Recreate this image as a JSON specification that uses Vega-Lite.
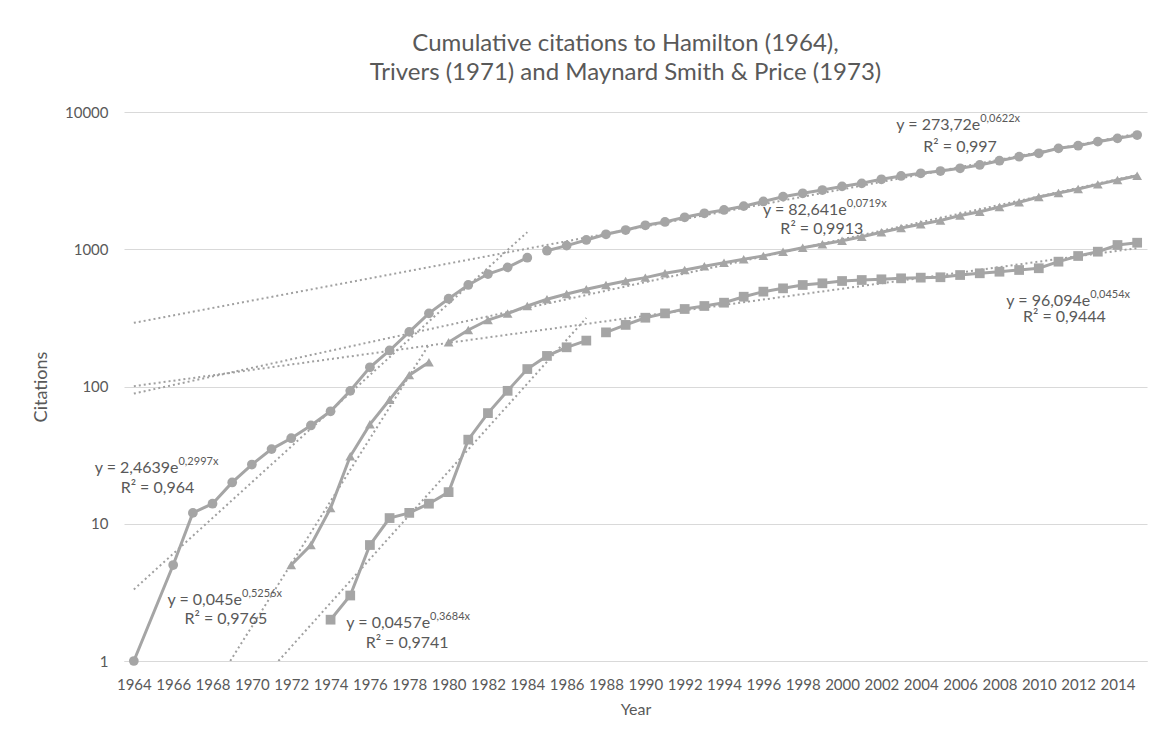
{
  "$schema": "https://vega.github.io/schema/vega-lite/v6.json",
  "width": 1023,
  "height": 549,
  "autosize": {"type": "none"},
  "padding": {"left": 124, "top": 112, "right": 18, "bottom": 79},
  "background": "white",
  "config": {
    "view": {"stroke": null},
    "font": "Lato",
    "text": {"font": "Lato", "color": "#595959"}
  },
  "title": {
    "text": ["Cumulative citations to Hamilton (1964),", "Trivers (1971) and Maynard Smith & Price (1973)"],
    "font": "Lato",
    "fontSize": 24,
    "fontWeight": "normal",
    "color": "#595959",
    "anchor": "middle",
    "offset": 20,
    "dx": -10,
    "lineHeight": 29
  },
  "datasets": {
    "series": [
      {"paper": "Hamilton (1964)", "segment": "H1", "year": 1964, "citations": 1},
      {"paper": "Hamilton (1964)", "segment": "H1", "year": 1966, "citations": 5},
      {"paper": "Hamilton (1964)", "segment": "H1", "year": 1967, "citations": 12},
      {"paper": "Hamilton (1964)", "segment": "H1", "year": 1968, "citations": 14},
      {"paper": "Hamilton (1964)", "segment": "H1", "year": 1969, "citations": 20},
      {"paper": "Hamilton (1964)", "segment": "H1", "year": 1970, "citations": 27},
      {"paper": "Hamilton (1964)", "segment": "H1", "year": 1971, "citations": 35},
      {"paper": "Hamilton (1964)", "segment": "H1", "year": 1972, "citations": 42},
      {"paper": "Hamilton (1964)", "segment": "H1", "year": 1973, "citations": 52},
      {"paper": "Hamilton (1964)", "segment": "H1", "year": 1974, "citations": 66},
      {"paper": "Hamilton (1964)", "segment": "H1", "year": 1975, "citations": 93},
      {"paper": "Hamilton (1964)", "segment": "H1", "year": 1976, "citations": 138},
      {"paper": "Hamilton (1964)", "segment": "H1", "year": 1977, "citations": 183},
      {"paper": "Hamilton (1964)", "segment": "H1", "year": 1978, "citations": 250},
      {"paper": "Hamilton (1964)", "segment": "H1", "year": 1979, "citations": 341},
      {"paper": "Hamilton (1964)", "segment": "H1", "year": 1980, "citations": 436},
      {"paper": "Hamilton (1964)", "segment": "H1", "year": 1981, "citations": 549},
      {"paper": "Hamilton (1964)", "segment": "H1", "year": 1982, "citations": 660},
      {"paper": "Hamilton (1964)", "segment": "H1", "year": 1983, "citations": 738},
      {"paper": "Hamilton (1964)", "segment": "H1", "year": 1984, "citations": 868},
      {"paper": "Hamilton (1964)", "segment": "H2", "year": 1985, "citations": 976},
      {"paper": "Hamilton (1964)", "segment": "H2", "year": 1986, "citations": 1062},
      {"paper": "Hamilton (1964)", "segment": "H2", "year": 1987, "citations": 1168},
      {"paper": "Hamilton (1964)", "segment": "H2", "year": 1988, "citations": 1285},
      {"paper": "Hamilton (1964)", "segment": "H2", "year": 1989, "citations": 1381},
      {"paper": "Hamilton (1964)", "segment": "H2", "year": 1990, "citations": 1495},
      {"paper": "Hamilton (1964)", "segment": "H2", "year": 1991, "citations": 1580},
      {"paper": "Hamilton (1964)", "segment": "H2", "year": 1992, "citations": 1709},
      {"paper": "Hamilton (1964)", "segment": "H2", "year": 1993, "citations": 1828},
      {"paper": "Hamilton (1964)", "segment": "H2", "year": 1994, "citations": 1932},
      {"paper": "Hamilton (1964)", "segment": "H2", "year": 1995, "citations": 2060},
      {"paper": "Hamilton (1964)", "segment": "H2", "year": 1996, "citations": 2230},
      {"paper": "Hamilton (1964)", "segment": "H2", "year": 1997, "citations": 2416},
      {"paper": "Hamilton (1964)", "segment": "H2", "year": 1998, "citations": 2556},
      {"paper": "Hamilton (1964)", "segment": "H2", "year": 1999, "citations": 2700},
      {"paper": "Hamilton (1964)", "segment": "H2", "year": 2000, "citations": 2870},
      {"paper": "Hamilton (1964)", "segment": "H2", "year": 2001, "citations": 3022},
      {"paper": "Hamilton (1964)", "segment": "H2", "year": 2002, "citations": 3233},
      {"paper": "Hamilton (1964)", "segment": "H2", "year": 2003, "citations": 3419},
      {"paper": "Hamilton (1964)", "segment": "H2", "year": 2004, "citations": 3575},
      {"paper": "Hamilton (1964)", "segment": "H2", "year": 2005, "citations": 3716},
      {"paper": "Hamilton (1964)", "segment": "H2", "year": 2006, "citations": 3890},
      {"paper": "Hamilton (1964)", "segment": "H2", "year": 2007, "citations": 4111},
      {"paper": "Hamilton (1964)", "segment": "H2", "year": 2008, "citations": 4418},
      {"paper": "Hamilton (1964)", "segment": "H2", "year": 2009, "citations": 4724},
      {"paper": "Hamilton (1964)", "segment": "H2", "year": 2010, "citations": 5000},
      {"paper": "Hamilton (1964)", "segment": "H2", "year": 2011, "citations": 5437},
      {"paper": "Hamilton (1964)", "segment": "H2", "year": 2012, "citations": 5683},
      {"paper": "Hamilton (1964)", "segment": "H2", "year": 2013, "citations": 6081},
      {"paper": "Hamilton (1964)", "segment": "H2", "year": 2014, "citations": 6430},
      {"paper": "Hamilton (1964)", "segment": "H2", "year": 2015, "citations": 6795},
      {"paper": "Trivers (1971)", "segment": "T1", "year": 1972, "citations": 5},
      {"paper": "Trivers (1971)", "segment": "T1", "year": 1973, "citations": 7},
      {"paper": "Trivers (1971)", "segment": "T1", "year": 1974, "citations": 13},
      {"paper": "Trivers (1971)", "segment": "T1", "year": 1975, "citations": 31},
      {"paper": "Trivers (1971)", "segment": "T1", "year": 1976, "citations": 53},
      {"paper": "Trivers (1971)", "segment": "T1", "year": 1977, "citations": 80},
      {"paper": "Trivers (1971)", "segment": "T1", "year": 1978, "citations": 121},
      {"paper": "Trivers (1971)", "segment": "T1", "year": 1979, "citations": 150},
      {"paper": "Trivers (1971)", "segment": "T2", "year": 1980, "citations": 210},
      {"paper": "Trivers (1971)", "segment": "T2", "year": 1981, "citations": 258},
      {"paper": "Trivers (1971)", "segment": "T2", "year": 1982, "citations": 305},
      {"paper": "Trivers (1971)", "segment": "T2", "year": 1983, "citations": 340},
      {"paper": "Trivers (1971)", "segment": "T2", "year": 1984, "citations": 386},
      {"paper": "Trivers (1971)", "segment": "T2", "year": 1985, "citations": 432},
      {"paper": "Trivers (1971)", "segment": "T2", "year": 1986, "citations": 472},
      {"paper": "Trivers (1971)", "segment": "T2", "year": 1987, "citations": 511},
      {"paper": "Trivers (1971)", "segment": "T2", "year": 1988, "citations": 549},
      {"paper": "Trivers (1971)", "segment": "T2", "year": 1989, "citations": 587},
      {"paper": "Trivers (1971)", "segment": "T2", "year": 1990, "citations": 621},
      {"paper": "Trivers (1971)", "segment": "T2", "year": 1991, "citations": 668},
      {"paper": "Trivers (1971)", "segment": "T2", "year": 1992, "citations": 706},
      {"paper": "Trivers (1971)", "segment": "T2", "year": 1993, "citations": 752},
      {"paper": "Trivers (1971)", "segment": "T2", "year": 1994, "citations": 798},
      {"paper": "Trivers (1971)", "segment": "T2", "year": 1995, "citations": 845},
      {"paper": "Trivers (1971)", "segment": "T2", "year": 1996, "citations": 895},
      {"paper": "Trivers (1971)", "segment": "T2", "year": 1997, "citations": 960},
      {"paper": "Trivers (1971)", "segment": "T2", "year": 1998, "citations": 1025},
      {"paper": "Trivers (1971)", "segment": "T2", "year": 1999, "citations": 1086},
      {"paper": "Trivers (1971)", "segment": "T2", "year": 2000, "citations": 1155},
      {"paper": "Trivers (1971)", "segment": "T2", "year": 2001, "citations": 1234},
      {"paper": "Trivers (1971)", "segment": "T2", "year": 2002, "citations": 1330},
      {"paper": "Trivers (1971)", "segment": "T2", "year": 2003, "citations": 1430},
      {"paper": "Trivers (1971)", "segment": "T2", "year": 2004, "citations": 1520},
      {"paper": "Trivers (1971)", "segment": "T2", "year": 2005, "citations": 1620},
      {"paper": "Trivers (1971)", "segment": "T2", "year": 2006, "citations": 1760},
      {"paper": "Trivers (1971)", "segment": "T2", "year": 2007, "citations": 1877},
      {"paper": "Trivers (1971)", "segment": "T2", "year": 2008, "citations": 2030},
      {"paper": "Trivers (1971)", "segment": "T2", "year": 2009, "citations": 2198},
      {"paper": "Trivers (1971)", "segment": "T2", "year": 2010, "citations": 2400},
      {"paper": "Trivers (1971)", "segment": "T2", "year": 2011, "citations": 2570},
      {"paper": "Trivers (1971)", "segment": "T2", "year": 2012, "citations": 2750},
      {"paper": "Trivers (1971)", "segment": "T2", "year": 2013, "citations": 2970},
      {"paper": "Trivers (1971)", "segment": "T2", "year": 2014, "citations": 3196},
      {"paper": "Trivers (1971)", "segment": "T2", "year": 2015, "citations": 3436},
      {"paper": "Maynard Smith & Price (1973)", "segment": "M1", "year": 1974, "citations": 2},
      {"paper": "Maynard Smith & Price (1973)", "segment": "M1", "year": 1975, "citations": 3},
      {"paper": "Maynard Smith & Price (1973)", "segment": "M1", "year": 1976, "citations": 7},
      {"paper": "Maynard Smith & Price (1973)", "segment": "M1", "year": 1977, "citations": 11},
      {"paper": "Maynard Smith & Price (1973)", "segment": "M1", "year": 1978, "citations": 12},
      {"paper": "Maynard Smith & Price (1973)", "segment": "M1", "year": 1979, "citations": 14},
      {"paper": "Maynard Smith & Price (1973)", "segment": "M1", "year": 1980, "citations": 17},
      {"paper": "Maynard Smith & Price (1973)", "segment": "M1", "year": 1981, "citations": 41},
      {"paper": "Maynard Smith & Price (1973)", "segment": "M1", "year": 1982, "citations": 64},
      {"paper": "Maynard Smith & Price (1973)", "segment": "M1", "year": 1983, "citations": 93},
      {"paper": "Maynard Smith & Price (1973)", "segment": "M1", "year": 1984, "citations": 134},
      {"paper": "Maynard Smith & Price (1973)", "segment": "M1", "year": 1985, "citations": 167},
      {"paper": "Maynard Smith & Price (1973)", "segment": "M1", "year": 1986, "citations": 193},
      {"paper": "Maynard Smith & Price (1973)", "segment": "M1", "year": 1987, "citations": 216},
      {"paper": "Maynard Smith & Price (1973)", "segment": "M2", "year": 1988, "citations": 248},
      {"paper": "Maynard Smith & Price (1973)", "segment": "M2", "year": 1989, "citations": 281},
      {"paper": "Maynard Smith & Price (1973)", "segment": "M2", "year": 1990, "citations": 317},
      {"paper": "Maynard Smith & Price (1973)", "segment": "M2", "year": 1991, "citations": 341},
      {"paper": "Maynard Smith & Price (1973)", "segment": "M2", "year": 1992, "citations": 367},
      {"paper": "Maynard Smith & Price (1973)", "segment": "M2", "year": 1993, "citations": 386},
      {"paper": "Maynard Smith & Price (1973)", "segment": "M2", "year": 1994, "citations": 408},
      {"paper": "Maynard Smith & Price (1973)", "segment": "M2", "year": 1995, "citations": 451},
      {"paper": "Maynard Smith & Price (1973)", "segment": "M2", "year": 1996, "citations": 491},
      {"paper": "Maynard Smith & Price (1973)", "segment": "M2", "year": 1997, "citations": 519},
      {"paper": "Maynard Smith & Price (1973)", "segment": "M2", "year": 1998, "citations": 549},
      {"paper": "Maynard Smith & Price (1973)", "segment": "M2", "year": 1999, "citations": 565},
      {"paper": "Maynard Smith & Price (1973)", "segment": "M2", "year": 2000, "citations": 587},
      {"paper": "Maynard Smith & Price (1973)", "segment": "M2", "year": 2001, "citations": 597},
      {"paper": "Maynard Smith & Price (1973)", "segment": "M2", "year": 2002, "citations": 604},
      {"paper": "Maynard Smith & Price (1973)", "segment": "M2", "year": 2003, "citations": 614},
      {"paper": "Maynard Smith & Price (1973)", "segment": "M2", "year": 2004, "citations": 621},
      {"paper": "Maynard Smith & Price (1973)", "segment": "M2", "year": 2005, "citations": 625},
      {"paper": "Maynard Smith & Price (1973)", "segment": "M2", "year": 2006, "citations": 649},
      {"paper": "Maynard Smith & Price (1973)", "segment": "M2", "year": 2007, "citations": 668},
      {"paper": "Maynard Smith & Price (1973)", "segment": "M2", "year": 2008, "citations": 686},
      {"paper": "Maynard Smith & Price (1973)", "segment": "M2", "year": 2009, "citations": 706},
      {"paper": "Maynard Smith & Price (1973)", "segment": "M2", "year": 2010, "citations": 727},
      {"paper": "Maynard Smith & Price (1973)", "segment": "M2", "year": 2011, "citations": 812},
      {"paper": "Maynard Smith & Price (1973)", "segment": "M2", "year": 2012, "citations": 893},
      {"paper": "Maynard Smith & Price (1973)", "segment": "M2", "year": 2013, "citations": 960},
      {"paper": "Maynard Smith & Price (1973)", "segment": "M2", "year": 2014, "citations": 1074},
      {"paper": "Maynard Smith & Price (1973)", "segment": "M2", "year": 2015, "citations": 1116}
    ],
    "trends": [
      {"trend": "HA", "year": 1964, "citations": 3.32},
      {"trend": "HA", "year": 1984, "citations": 1333},
      {"trend": "HB", "year": 1964, "citations": 291},
      {"trend": "HB", "year": 2015, "citations": 6950},
      {"trend": "TA", "year": 1968.9, "citations": 1},
      {"trend": "TA", "year": 1979, "citations": 202},
      {"trend": "TB", "year": 1964, "citations": 88.8},
      {"trend": "TB", "year": 2015, "citations": 3475},
      {"trend": "SA", "year": 1971.35, "citations": 1},
      {"trend": "SA", "year": 1987, "citations": 316},
      {"trend": "SB", "year": 1964, "citations": 100.6},
      {"trend": "SB", "year": 2015, "citations": 1019}
    ],
    "equations": [
      {"year": 1966.27, "citations": 25.5, "eq": "y = 2,4639e", "sup": "0,2997x"},
      {"year": 1969.5, "citations": 2.78, "eq": "y = 0,045e", "sup": "0,5256x"},
      {"year": 1979.06, "citations": 1.9, "eq": "y = 0,0457e", "sup": "0,3684x"},
      {"year": 2007.02, "citations": 8039, "eq": "y = 273,72e", "sup": "0,0622x"},
      {"year": 2000.24, "citations": 1932, "eq": "y = 82,641e", "sup": "0,0719x"},
      {"year": 2012.61, "citations": 422, "eq": "y = 96,094e", "sup": "0,0454x"}
    ],
    "rsquared": [
      {"year": 1965.2, "citations": 18.2, "label": "R² = 0,964"},
      {"year": 1968.68, "citations": 2.01, "label": "R² = 0,9765"},
      {"year": 1977.89, "citations": 1.35, "label": "R² = 0,9741"},
      {"year": 2006.0, "citations": 5588, "label": "R² = 0,997"},
      {"year": 1998.97, "citations": 1397, "label": "R² = 0,9913"},
      {"year": 2011.3, "citations": 319, "label": "R² = 0,9444"}
    ]
  },
  "encoding": {
    "x": {
      "field": "year",
      "type": "quantitative",
      "scale": {"domain": [1963.5, 2015.5], "nice": false, "zero": false},
      "axis": {
        "title": "Year",
        "values": [1964, 1966, 1968, 1970, 1972, 1974, 1976, 1978, 1980, 1982, 1984, 1986, 1988, 1990, 1992, 1994, 1996, 1998, 2000, 2002, 2004, 2006, 2008, 2010, 2012, 2014],
        "format": "d",
        "grid": false,
        "ticks": false,
        "tickSize": 0,
        "domain": true,
        "domainColor": "#D9D9D9",
        "domainWidth": 1,
        "labelFont": "Lato",
        "labelFontSize": 15,
        "labelColor": "#595959",
        "labelPadding": 16,
        "labelOverlap": false,
        "labelFlush": false,
        "titleFont": "Lato",
        "titleFontSize": 16,
        "titleFontWeight": "normal",
        "titleColor": "#595959",
        "titlePadding": 9
      }
    },
    "y": {
      "field": "citations",
      "type": "quantitative",
      "scale": {"type": "log", "domain": [1, 10000], "nice": false},
      "axis": {
        "title": "Citations",
        "values": [1, 10, 100, 1000, 10000],
        "format": "d",
        "grid": true,
        "gridColor": "#D9D9D9",
        "gridWidth": 1,
        "ticks": false,
        "tickSize": 0,
        "domain": false,
        "labelFont": "Lato",
        "labelFontSize": 15,
        "labelColor": "#595959",
        "labelPadding": 16,
        "titleFont": "Lato",
        "titleFontSize": 18,
        "titleFontWeight": "normal",
        "titleColor": "#595959",
        "titlePadding": 14
      }
    }
  },
  "layer": [
    {
      "data": {"name": "trends"},
      "mark": {"type": "line", "color": "#A0A0A0", "strokeWidth": 2, "strokeDash": [2, 3], "clip": true},
      "encoding": {"detail": {"field": "trend", "type": "nominal"}}
    },
    {
      "data": {"name": "series"},
      "mark": {"type": "line", "color": "#A5A5A5", "strokeWidth": 3},
      "encoding": {"detail": {"field": "segment", "type": "nominal"}}
    },
    {
      "data": {"name": "series"},
      "mark": {"type": "point", "filled": true, "color": "#A5A5A5", "opacity": 1, "size": 95},
      "encoding": {
        "shape": {
          "field": "paper",
          "type": "nominal",
          "scale": {"domain": ["Hamilton (1964)", "Trivers (1971)", "Maynard Smith & Price (1973)"], "range": ["circle", "triangle-up", "square"]},
          "legend": null
        }
      }
    },
    {
      "data": {"name": "equations"},
      "mark": {"type": "text", "align": "right", "baseline": "middle", "fontSize": 16, "font": "Lato", "color": "#595959"},
      "encoding": {"text": {"field": "eq"}}
    },
    {
      "data": {"name": "equations"},
      "mark": {"type": "text", "align": "left", "baseline": "middle", "fontSize": 11, "dy": -6, "font": "Lato", "color": "#595959"},
      "encoding": {"text": {"field": "sup"}}
    },
    {
      "data": {"name": "rsquared"},
      "mark": {"type": "text", "align": "center", "baseline": "middle", "fontSize": 16, "font": "Lato", "color": "#595959"},
      "encoding": {"text": {"field": "label"}}
    }
  ]
}
